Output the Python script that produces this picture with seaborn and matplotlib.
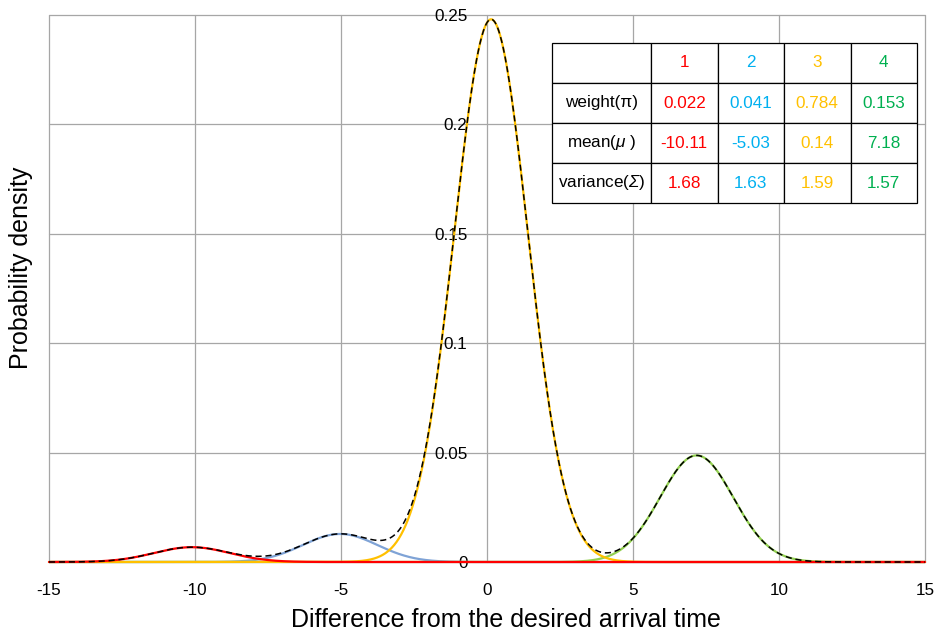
import numpy as np
import pandas as pd
import matplotlib
matplotlib.use("Agg")
import matplotlib.pyplot as plt
import seaborn as sns
from matplotlib.ticker import FuncFormatter, FixedLocator

components = ["1", "2", "3", "4"]
weights = [0.022, 0.041, 0.784, 0.153]
means = [-10.11, -5.03, 0.14, 7.18]
variances = [1.68, 1.63, 1.59, 1.57]
row_labels = ["weight(π)", r"mean($\mu$ )", r"variance($\Sigma$)"]
x_ticks = [-15, -10, -5, 0, 5, 10, 15]
y_ticks = [0, 0.05, 0.1, 0.15, 0.2, 0.25]

curve_colors = ["#FF0000", "#7FA3D6", "#FFC000", "#92D050"]
text_colors = ["#FF0000", "#00B0F0", "#FFC000", "#00B050"]

sns.set_style("white")
plt.rcParams["font.family"] = ["Liberation Sans", "DejaVu Sans"]
plt.rcParams["text.color"] = "black"
plt.rcParams["axes.labelcolor"] = "black"
plt.rcParams["mathtext.fontset"] = "custom"
# Greek capitals are always set in the "rm" math font; point it to italic
plt.rcParams["mathtext.rm"] = "Liberation Sans:italic"
plt.rcParams["mathtext.it"] = "Liberation Sans:italic"

x = np.linspace(-15, 15, 1501)
frames = []
for c, w, m, v in zip(components, weights, means, variances):
    dens = w / np.sqrt(2 * np.pi * v) * np.exp(-(x - m) ** 2 / (2 * v))
    frames.append(pd.DataFrame({"x": x, "density": dens, "component": c}))
df = pd.concat(frames, ignore_index=True)
mix = df.groupby("x", as_index=False)["density"].sum()

fig = plt.figure(figsize=(9.41, 6.41), dpi=100)
ax = fig.add_axes([49 / 941, 1 - 562 / 641, 876 / 941, 547 / 641])

# draw order: 2, 4, 3, 1 (red on top), then mixture
for k, idx in enumerate([1, 3, 2, 0]):
    sub = df[df["component"] == components[idx]]
    sns.lineplot(data=sub, x="x", y="density", ax=ax, color=curve_colors[idx],
                 linewidth=1.6, zorder=3 + k * 0.1, estimator=None, sort=False)
sns.lineplot(data=mix, x="x", y="density", ax=ax, color="black", linewidth=1.1,
             linestyle=(0, (4, 2.5)), zorder=4, estimator=None, sort=False)
for ln in ax.get_lines():
    ln.set_clip_on(False)

ax.set_xlim(-15, 15)
ax.set_ylim(0, 0.25)
ax.xaxis.set_major_locator(FixedLocator(x_ticks))
ax.yaxis.set_major_locator(FixedLocator(y_ticks))
ax.yaxis.set_major_formatter(FuncFormatter(lambda v, p: f"{v:g}"))
ax.xaxis.set_major_formatter(FuncFormatter(lambda v, p: f"{v:g}"))

for s in ax.spines.values():
    s.set_visible(False)
ax.spines["left"].set_position(("data", 0))
ax.tick_params(axis="both", length=0, labelsize=12.3, colors="black")
ax.tick_params(axis="x", pad=15)
ax.tick_params(axis="y", pad=14)

ax.grid(True, color="#A6A6A6", linewidth=0.9)
ax.set_axisbelow(True)
for gl in ax.get_xgridlines() + ax.get_ygridlines():
    gl.set_clip_on(False)

ax.set_xlabel("Difference from the desired arrival time", fontsize=18, color="black")
ax.set_ylabel("Probability density", fontsize=18, color="black")
ax.xaxis.set_label_coords(0.522, -0.084)
ax.yaxis.set_label_coords(-0.018, 0.5375)

# ---- parameter table ----
cell_text = [[""] + components,
             [row_labels[0]] + [f"{w:.3f}" for w in weights],
             [row_labels[1]] + [f"{m:.2f}" for m in means],
             [row_labels[2]] + [f"{v:.2f}" for v in variances]]
tx0 = (552 - 49) / 876
tw = 365 / 876
ty0 = (562 - 203) / 547
th = 160 / 547
tbl = ax.table(cellText=cell_text, cellLoc="center",
               colWidths=[99 / 365] + [66.5 / 365] * 4,
               bbox=[tx0, ty0, tw, th])
tbl.auto_set_font_size(False)
tbl.set_fontsize(12.3)
tbl.set_zorder(6)
for (r, c), cell in tbl.get_celld().items():
    cell.set_edgecolor("black")
    cell.set_linewidth(0.9)
    cell.set_facecolor("white")
    if c >= 1:
        cell.get_text().set_color(text_colors[c - 1])
    else:
        cell.get_text().set_color("black")

fig.savefig("out.png", dpi=100)
